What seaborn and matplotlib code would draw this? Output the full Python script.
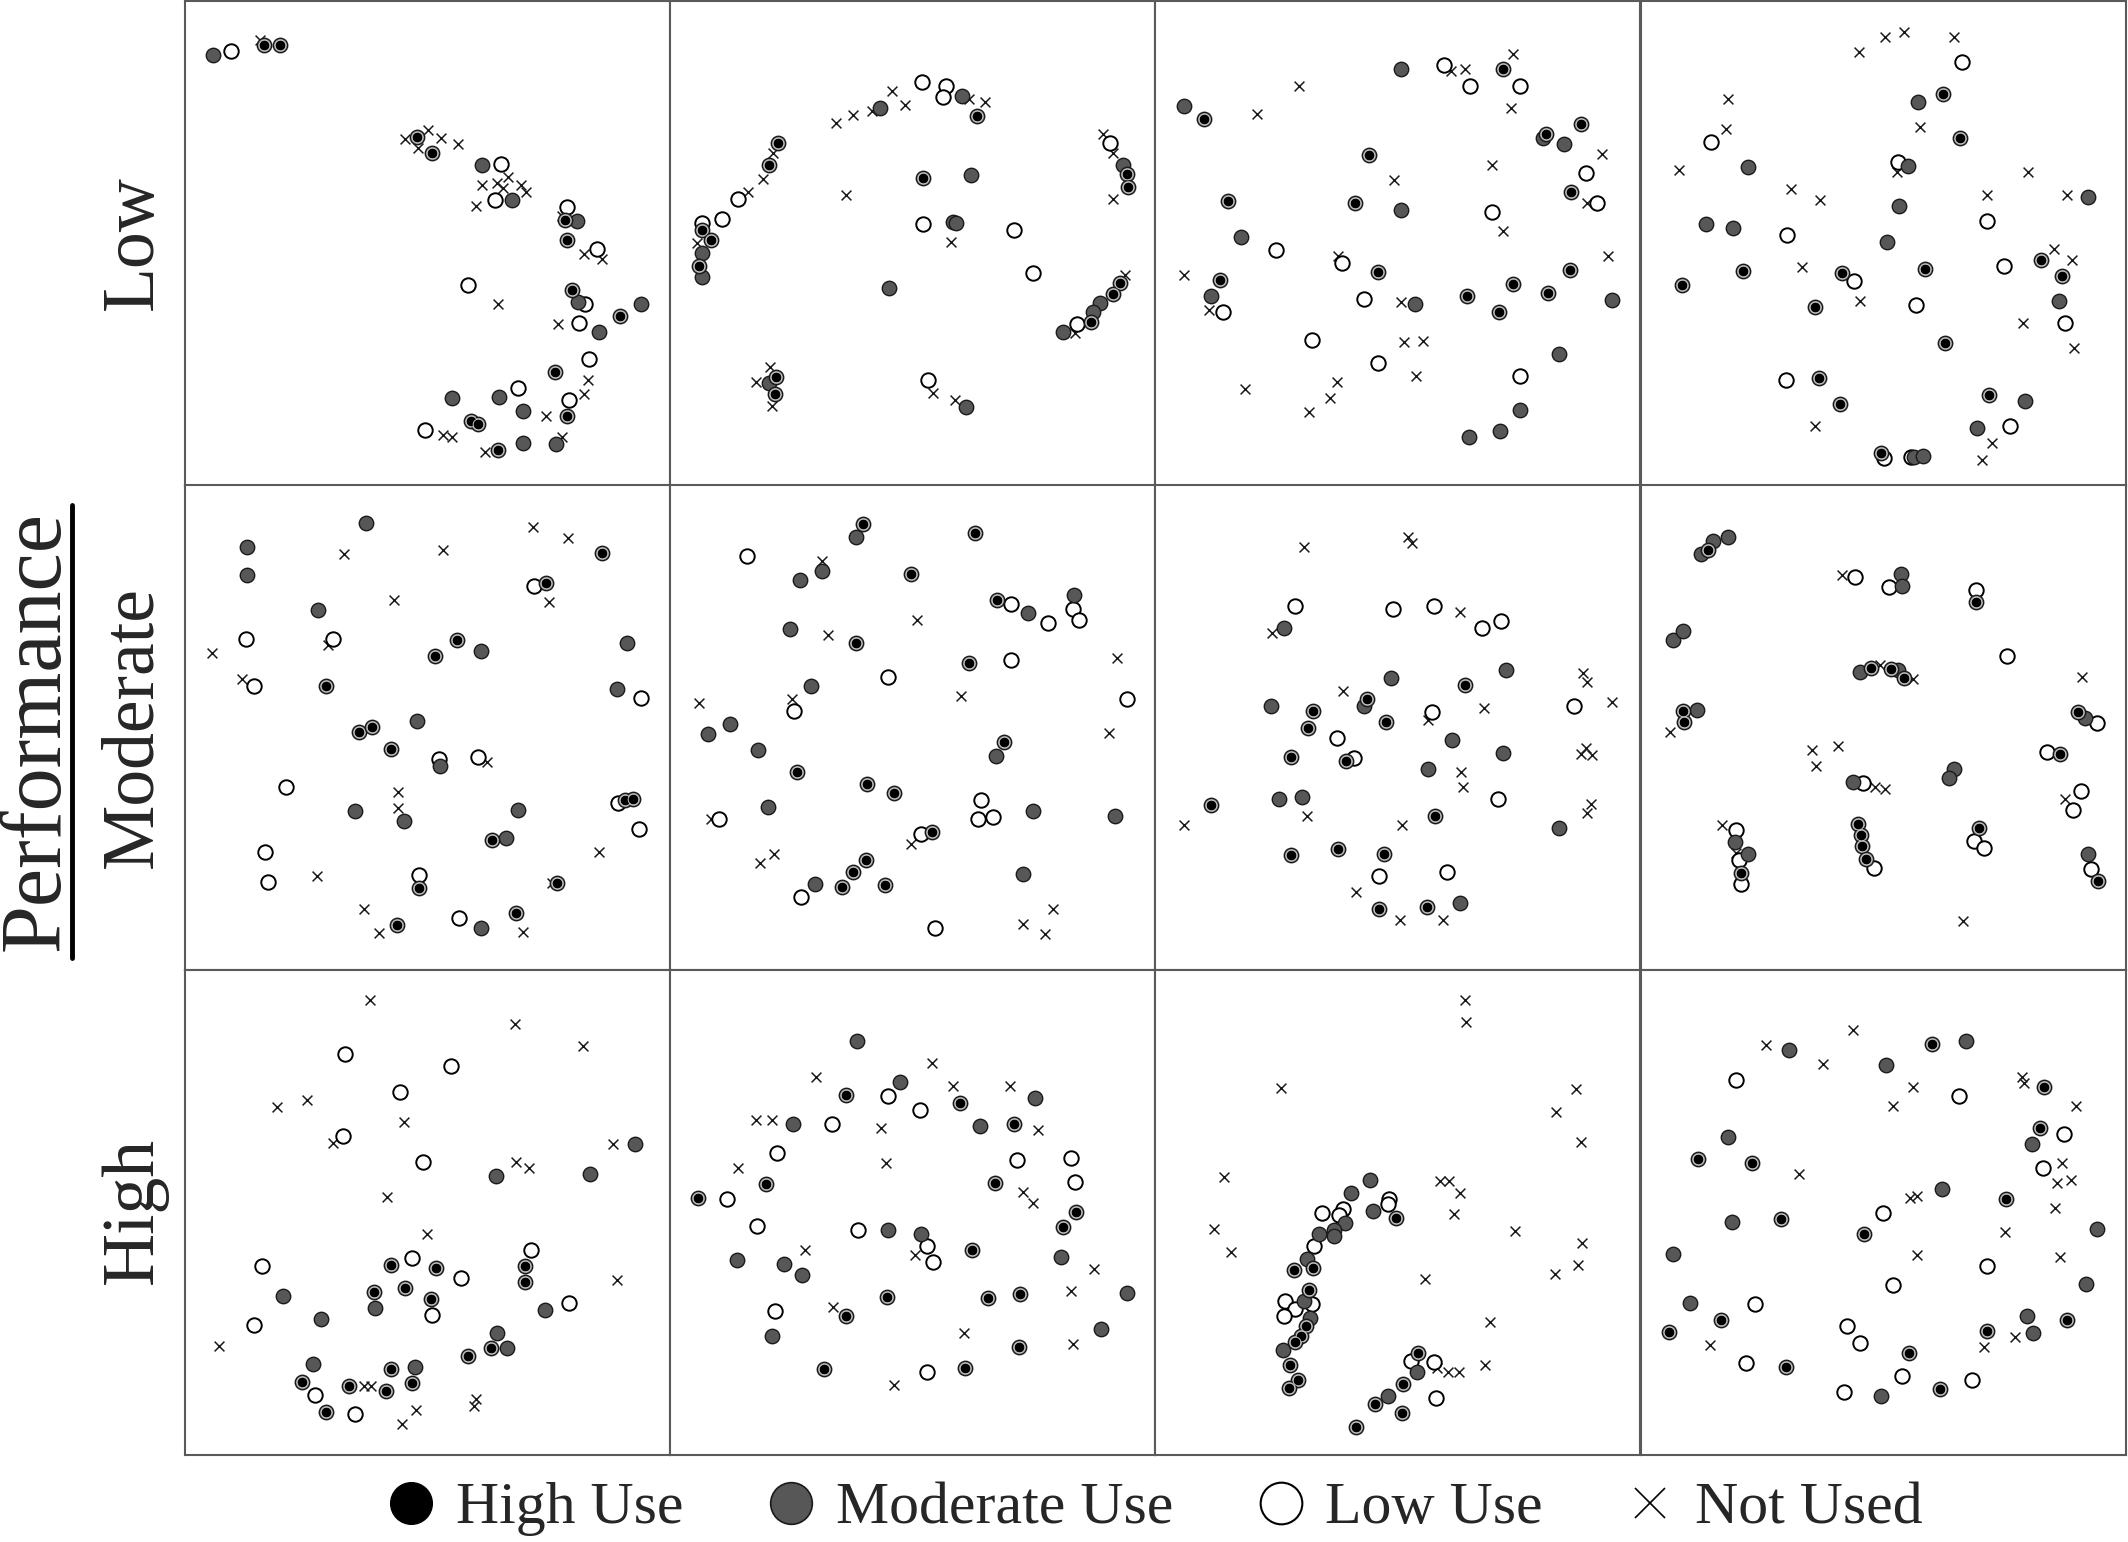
import pandas as pd
import seaborn as sns
import matplotlib.pyplot as plt
from matplotlib.lines import Line2D

# %% --------------------------------------------------------------------
# Data: point positions (image-style units, y grows downwards) per panel
# hu = High Use, mu = Moderate Use, lu = Low Use, nu = Not Used

# Low performance row
low1_hu = [(236, 132), (285, 132), (697, 408), (740, 455), (1140, 658), (1147, 717), (1160, 868),
           (1305, 946), (1110, 1113), (1147, 1244), (857, 1260), (878, 1270), (940, 1348)]
low1_mu = [(83, 161), (890, 493), (980, 598), (1177, 660), (1180, 903), (1243, 992), (1368, 910),
           (800, 1190), (942, 1187), (1015, 1230), (1013, 1327), (1112, 1330)]
low1_lu = [(137, 149), (948, 489), (930, 597), (1147, 617), (1237, 743), (848, 853), (1200, 908),
           (1183, 966), (1213, 1073), (998, 1160), (1151, 1197), (719, 1287)]
low1_nu = [(225, 117), (660, 415), (728, 388), (768, 410), (818, 428), (700, 440), (968, 527),
           (890, 552), (937, 547), (955, 562), (1008, 552), (1023, 573), (872, 615), (1130, 645),
           (1197, 760), (1250, 773), (938, 910), (1120, 968), (1210, 1137), (1197, 1178),
           (1083, 1246), (775, 1302), (800, 1307), (900, 1352), (1130, 1308)]

low2_hu = [(325, 425), (297, 493), (95, 687), (123, 717), (88, 795), (920, 346), (760, 532),
           (1370, 520), (1373, 559), (1350, 845), (1330, 878), (1262, 962), (318, 1127), (315, 1178)]
low2_mu = [(630, 321), (875, 284), (902, 521), (95, 757), (95, 829), (850, 663), (858, 665),
           (658, 862), (1360, 493), (1290, 907), (1268, 933), (1180, 993), (297, 1145), (888, 1218)]
low2_lu = [(757, 243), (827, 256), (820, 289), (97, 666), (155, 653), (203, 595), (758, 668),
           (1033, 687), (1088, 815), (1320, 425), (1220, 970), (775, 1138)]
low2_nu = [(498, 365), (548, 343), (606, 330), (667, 271), (705, 312), (898, 294), (945, 304),
           (308, 457), (278, 535), (235, 573), (82, 727), (528, 583), (842, 723), (1300, 398),
           (1330, 457), (1328, 593), (1365, 822), (1215, 997), (300, 1097), (257, 1142),
           (307, 1215), (790, 1175), (855, 1196)]

low3_hu = [(1045, 203), (147, 353), (1172, 400), (1277, 368), (643, 461), (219, 601), (600, 606),
           (1247, 573), (196, 837), (670, 813), (1075, 850), (1178, 876), (1244, 808), (935, 885),
           (1031, 932)]
low3_mu = [(738, 203), (86, 316), (1165, 412), (1228, 429), (738, 627), (258, 707), (169, 885),
           (780, 910), (1372, 896), (1212, 1058), (1094, 1226), (1034, 1291), (942, 1308)]
low3_lu = [(866, 193), (945, 256), (1094, 254), (1293, 516), (1325, 607), (1011, 633), (362, 748),
           (560, 785), (203, 934), (627, 895), (472, 1018), (670, 1085), (1094, 1124)]
low3_nu = [(1075, 159), (887, 211), (931, 205), (432, 255), (305, 340), (1069, 320), (1342, 460),
           (1011, 491), (717, 538), (1295, 607), (1045, 690), (550, 765), (1360, 765), (87, 822),
           (161, 928), (738, 902), (747, 1022), (805, 1020), (783, 1124), (545, 1142), (526, 1192),
           (461, 1234), (271, 1163)]

low4_hu = [(906, 280), (957, 412), (307, 810), (124, 851), (604, 817), (851, 804), (1201, 776),
           (1262, 824), (523, 918), (913, 1026), (535, 1132), (597, 1208), (1044, 1183), (720, 1357)]
low4_mu = [(832, 302), (320, 498), (800, 496), (775, 616), (196, 670), (275, 681), (737, 723),
           (1340, 589), (1255, 900), (1153, 1201), (1009, 1280), (820, 1368), (847, 1365)]
low4_lu = [(962, 184), (211, 424), (772, 483), (1038, 661), (437, 702), (640, 839), (825, 913),
           (1088, 795), (1271, 965), (435, 1136), (1108, 1275), (730, 1370), (810, 1368)]
low4_nu = [(655, 153), (732, 109), (790, 93), (940, 108), (262, 295), (256, 383), (115, 506),
           (838, 378), (767, 513), (451, 565), (537, 598), (1160, 513), (1038, 583), (1277, 582),
           (1239, 743), (1293, 777), (482, 798), (658, 900), (1146, 966), (1299, 1040),
           (522, 1275), (1054, 1326), (1024, 1377)]

# Moderate performance row (first panel read on a 357-unit grid)
mod1_hu = [(307, 50), (266, 72), (104, 148), (184, 126), (200, 114), (128, 182), (138, 178),
           (152, 194), (226, 261), (324, 232), (330, 231), (172, 297), (274, 293), (156, 324),
           (244, 315)]
mod1_mu = [(133, 28), (46, 46), (46, 66), (98, 92), (218, 122), (325, 116), (318, 150), (171, 174),
           (188, 207), (125, 240), (161, 247), (245, 239), (236, 260), (218, 326)]
mod1_lu = [(257, 74), (45, 113), (109, 113), (51, 148), (336, 157), (187, 202), (216, 200),
           (74, 222), (319, 234), (334, 253), (59, 270), (61, 292), (172, 287), (202, 319)]
mod1_nu = [(117, 51), (190, 48), (256, 31), (282, 39), (154, 85), (268, 86), (20, 124), (42, 143),
           (105, 118), (222, 204), (157, 226), (157, 238), (305, 270), (97, 288), (132, 312),
           (143, 330), (249, 329), (270, 293)]

mod2_hu = [(580, 118), (915, 143), (722, 268), (982, 345), (557, 473), (896, 535), (1003, 770),
           (380, 862), (590, 896), (671, 923), (786, 1040), (589, 1126), (550, 1160), (515, 1205),
           (645, 1199)]
mod2_mu = [(557, 155), (456, 257), (391, 285), (361, 432), (423, 603), (181, 717), (113, 747),
           (265, 795), (1073, 385), (1212, 330), (977, 813), (293, 967), (1088, 977), (1335, 992),
           (435, 1196), (1060, 1166)]
mod2_lu = [(232, 212), (1023, 357), (1135, 413), (1210, 373), (1227, 405), (1024, 524), (653, 576),
           (372, 678), (1370, 643), (147, 1001), (934, 945), (923, 1003), (968, 996), (752, 1046),
           (392, 1236), (796, 1330)]
mod2_nu = [(455, 227), (475, 449), (740, 405), (874, 632), (86, 655), (367, 643), (1340, 520),
           (1316, 745), (122, 1001), (724, 1076), (271, 1133), (313, 1108), (1150, 1272),
           (1058, 1316), (1125, 1346)]

mod3_hu = [(930, 600), (635, 642), (475, 678), (460, 730), (693, 710), (408, 817), (572, 828),
           (169, 960), (840, 992), (409, 1111), (548, 1093), (687, 1107), (672, 1272), (816, 1267)]
mod3_mu = [(386, 430), (709, 580), (1053, 555), (347, 663), (627, 662), (890, 764), (1043, 805),
           (820, 851), (373, 943), (440, 936), (1213, 1028), (916, 1253)]
mod3_lu = [(421, 362), (714, 373), (836, 362), (981, 430), (1038, 409), (832, 680), (1257, 662),
           (545, 760), (596, 818), (1030, 942), (673, 1172), (877, 1162)]
mod3_nu = [(447, 187), (758, 157), (771, 174), (351, 445), (915, 382), (565, 618), (988, 670),
           (820, 706), (1285, 563), (1295, 592), (1372, 650), (1292, 790), (1278, 808), (1310, 810),
           (919, 862), (923, 905), (1308, 958), (1295, 983), (455, 993), (88, 1020), (742, 1020),
           (602, 1222), (735, 1304), (864, 1306)]

mod4_hu = [(202, 196), (689, 549), (750, 553), (789, 580), (1005, 350), (126, 679), (129, 711),
           (1312, 680), (1258, 806), (651, 1018), (661, 1051), (663, 1082), (676, 1122), (301, 1164),
           (1013, 1028), (1370, 1188)]
mod4_mu = [(180, 207), (215, 167), (261, 155), (96, 465), (125, 439), (780, 267), (782, 304),
           (657, 561), (772, 556), (167, 676), (1332, 700), (636, 891), (938, 853), (925, 880),
           (283, 1071), (322, 1106), (1341, 1108)]
mod4_lu = [(641, 276), (745, 305), (1005, 315), (1097, 513), (1369, 715), (1219, 800), (667, 893),
           (1320, 917), (1295, 974), (284, 1036), (294, 1126), (299, 1197), (700, 1148), (1000, 1068),
           (1028, 1090), (1349, 1152)]
mod4_nu = [(603, 271), (716, 540), (815, 583), (1323, 576), (86, 740), (514, 796), (590, 782),
           (524, 844), (703, 907), (733, 912), (1271, 941), (243, 1021), (285, 1103), (965, 1309)]

# High performance row (first panel read on a 357-unit grid)
high1_hu = [(152, 217), (185, 219), (139, 237), (162, 234), (181, 242), (250, 218), (250, 230),
            (208, 284), (225, 278), (152, 294), (86, 303), (121, 306), (148, 310), (167, 304),
            (104, 325)]
high1_mu = [(229, 152), (298, 150), (331, 128), (72, 240), (140, 249), (265, 250), (100, 257),
            (230, 267), (237, 278), (94, 290), (169, 292)]
high1_lu = [(118, 62), (196, 71), (158, 90), (116, 122), (175, 141), (57, 218), (255, 206),
            (167, 212), (182, 254), (203, 227), (283, 245), (51, 261), (96, 313), (125, 327)]
high1_nu = [(136, 22), (243, 40), (293, 56), (68, 101), (90, 96), (161, 112), (109, 127),
            (244, 141), (253, 146), (315, 128), (149, 167), (178, 194), (318, 228), (25, 277),
            (132, 306), (137, 306), (214, 316), (213, 321), (170, 324), (160, 334)]

high2_hu = [(527, 375), (869, 398), (1031, 461), (289, 643), (83, 684), (975, 638), (1218, 726),
            (1178, 771), (907, 841), (651, 982), (954, 985), (1050, 972), (527, 1037), (1047, 1131),
            (462, 1196), (885, 1195)]
high2_mu = [(561, 214), (690, 335), (1094, 385), (370, 462), (929, 467), (653, 781), (752, 791),
            (202, 871), (343, 882), (396, 914), (1172, 860), (1372, 968), (305, 1098), (1293, 1077)]
high2_lu = [(655, 377), (750, 419), (487, 462), (322, 550), (1042, 569), (1202, 563), (1216, 637),
            (172, 688), (261, 768), (563, 780), (771, 828), (790, 876), (314, 1022), (770, 1206)]
high2_nu = [(437, 321), (787, 280), (848, 349), (1021, 348), (259, 451), (306, 451), (632, 474),
            (1104, 479), (205, 595), (647, 579), (1060, 666), (1089, 698), (404, 840), (735, 854),
            (1271, 898), (1202, 963), (489, 1011), (881, 1088), (1209, 1122), (673, 1245)]

high3_hu = [(723, 744), (417, 901), (474, 895), (461, 960), (454, 1067), (438, 1098), (420, 1117),
            (405, 1186), (430, 1231), (402, 1254), (788, 1148), (744, 1243), (659, 1303),
            (740, 1329), (604, 1370)]
high3_mu = [(646, 630), (587, 668), (653, 722), (571, 760), (536, 780), (537, 797), (493, 791),
            (456, 866), (447, 993), (466, 1043), (383, 1140), (787, 1205), (700, 1279)]
high3_lu = [(702, 687), (700, 702), (500, 728), (565, 718), (553, 735), (476, 827), (391, 993),
            (420, 1018), (470, 1003), (387, 1038), (767, 1173), (838, 1175), (843, 1285)]
high3_nu = [(929, 89), (933, 155), (377, 353), (1263, 356), (1203, 427), (1279, 515), (208, 620),
            (855, 632), (882, 632), (914, 668), (898, 731), (176, 777), (227, 846), (1079, 784),
            (1282, 818), (1270, 885), (1201, 913), (809, 928), (1005, 1057), (989, 1185),
            (878, 1206), (912, 1206), (845, 1193)]

high4_hu = [(873, 222), (1210, 350), (1197, 474), (171, 568), (333, 580), (1094, 688), (421, 748),
            (669, 792), (239, 1051), (85, 1085), (1038, 1082), (1277, 1051), (435, 1190),
            (805, 1150), (897, 1258)]
high4_mu = [(444, 241), (734, 284), (976, 212), (261, 502), (1172, 521), (903, 657), (272, 756),
            (97, 853), (1369, 776), (1334, 943), (148, 998), (1159, 1038), (1177, 1090), (721, 1278)]
high4_lu = [(286, 330), (953, 378), (1269, 492), (1205, 594), (725, 728), (1038, 889), (756, 944),
            (342, 1001), (617, 1068), (658, 1118), (315, 1178), (782, 1219), (609, 1267), (992, 1231)]
high4_nu = [(375, 225), (637, 181), (546, 283), (817, 352), (757, 408), (1143, 322), (1149, 338),
            (1305, 408), (473, 612), (808, 683), (828, 677), (1263, 580), (1249, 640), (1289, 631),
            (1242, 714), (1091, 785), (828, 855), (1257, 861), (208, 1125), (1030, 1130),
            (1122, 1102)]

ROW_LABELS = ['Low', 'Moderate', 'High']
USE_LEVELS = ['High Use', 'Moderate Use', 'Low Use', 'Not Used']

panels = {
    (0, 0): [low1_hu, low1_mu, low1_lu, low1_nu],
    (0, 1): [low2_hu, low2_mu, low2_lu, low2_nu],
    (0, 2): [low3_hu, low3_mu, low3_lu, low3_nu],
    (0, 3): [low4_hu, low4_mu, low4_lu, low4_nu],
    (1, 0): [mod1_hu, mod1_mu, mod1_lu, mod1_nu],
    (1, 1): [mod2_hu, mod2_mu, mod2_lu, mod2_nu],
    (1, 2): [mod3_hu, mod3_mu, mod3_lu, mod3_nu],
    (1, 3): [mod4_hu, mod4_mu, mod4_lu, mod4_nu],
    (2, 0): [high1_hu, high1_mu, high1_lu, high1_nu],
    (2, 1): [high2_hu, high2_mu, high2_lu, high2_nu],
    (2, 2): [high3_hu, high3_mu, high3_lu, high3_nu],
    (2, 3): [high4_hu, high4_mu, high4_lu, high4_nu],
}
panel_span = {(1, 0): 357, (2, 0): 357}   # these two were read on a coarser grid

rows = []
for (r, c), groups in panels.items():
    for use, pts in zip(USE_LEVELS, groups):
        for x, y in pts:
            rows.append((r, c, use, x, y))
df = pd.DataFrame(rows, columns=['row', 'col', 'use', 'x', 'y'])

# %% --------------------------------------------------------------------
# Plot

sns.set_style('white')
plt.rcParams['font.family'] = ['Liberation Serif', 'DejaVu Serif']

fig = plt.figure(figsize=(21.28, 15.42), dpi=100)

W, H = 2128, 1542
lefts = [185, 670, 1155, 1641]
tops = [1, 485, 970]
size = 485

S = 108
for (r, c) in panels:
    ax = fig.add_axes([lefts[c] / W, 1 - (tops[r] + size) / H, size / W, size / H])
    sub = df[(df.row == r) & (df.col == c)]
    nu = sub[sub.use == 'Not Used']
    lu = sub[sub.use == 'Low Use']
    mu = sub[sub.use == 'Moderate Use']
    hu = sub[sub.use == 'High Use']

    sns.scatterplot(data=nu, x='x', y='y', marker='x', color='#1a1a1a', s=50,
                    linewidth=1.1, ax=ax, legend=False)
    sns.scatterplot(data=lu, x='x', y='y', marker='o', color='white', edgecolor='black',
                    s=S, linewidth=1.4, ax=ax, legend=False)
    sns.scatterplot(data=mu, x='x', y='y', marker='o', color='#575757', edgecolor='#1a1a1a',
                    s=S, linewidth=1.0, ax=ax, legend=False)
    # High use: grey ring with a black core
    sns.scatterplot(data=hu, x='x', y='y', marker='o', color='#8c8c8c', edgecolor='#1a1a1a',
                    s=S, linewidth=1.0, ax=ax, legend=False)
    sns.scatterplot(data=hu, x='x', y='y', marker='o', color='black', edgecolor='#e0e0e0',
                    s=S * 0.55, linewidth=0.6, ax=ax, legend=False)

    span = panel_span.get((r, c), 1455)
    ax.set_xlim(0, span)
    ax.set_ylim(span, 0)
    ax.set(xticks=[], yticks=[], xlabel='', ylabel='')
    for sp in ax.spines.values():
        sp.set_visible(True)
        sp.set_color('#5a5a5a')
        sp.set_linewidth(1.5)

# row labels
row_centres = [242, 727, 1210]
for label, yc in zip(ROW_LABELS, row_centres):
    fig.text(134 / W, 1 - yc / H, label, rotation=90, fontsize=53,
             ha='center', va='center')

fig.text(38 / W, 1 - 731 / H, 'Performance', rotation=90, fontsize=62,
         ha='center', va='center')
fig.add_artist(Line2D([72 / W, 72 / W], [1 - 958 / H, 1 - 505 / H],
                      transform=fig.transFigure, color='black', lw=3.5))

# legend
handles = [
    Line2D([], [], ls='', marker='o', markersize=30, markerfacecolor='black',
           markeredgecolor='black'),
    Line2D([], [], ls='', marker='o', markersize=30, markerfacecolor='#575757',
           markeredgecolor='#1a1a1a', markeredgewidth=1.2),
    Line2D([], [], ls='', marker='o', markersize=30, markerfacecolor='white',
           markeredgecolor='black', markeredgewidth=1.5),
    Line2D([], [], ls='', marker='x', markersize=22, color='black', markeredgewidth=1.2),
]
fig.legend(handles, USE_LEVELS, loc='center', bbox_to_anchor=(1155 / W, 1 - 1509 / H),
           ncol=4, frameon=False, fontsize=43, handlelength=0.8, handletextpad=0.35,
           columnspacing=1.4, borderpad=0)

fig.savefig('out.png', dpi=100)
